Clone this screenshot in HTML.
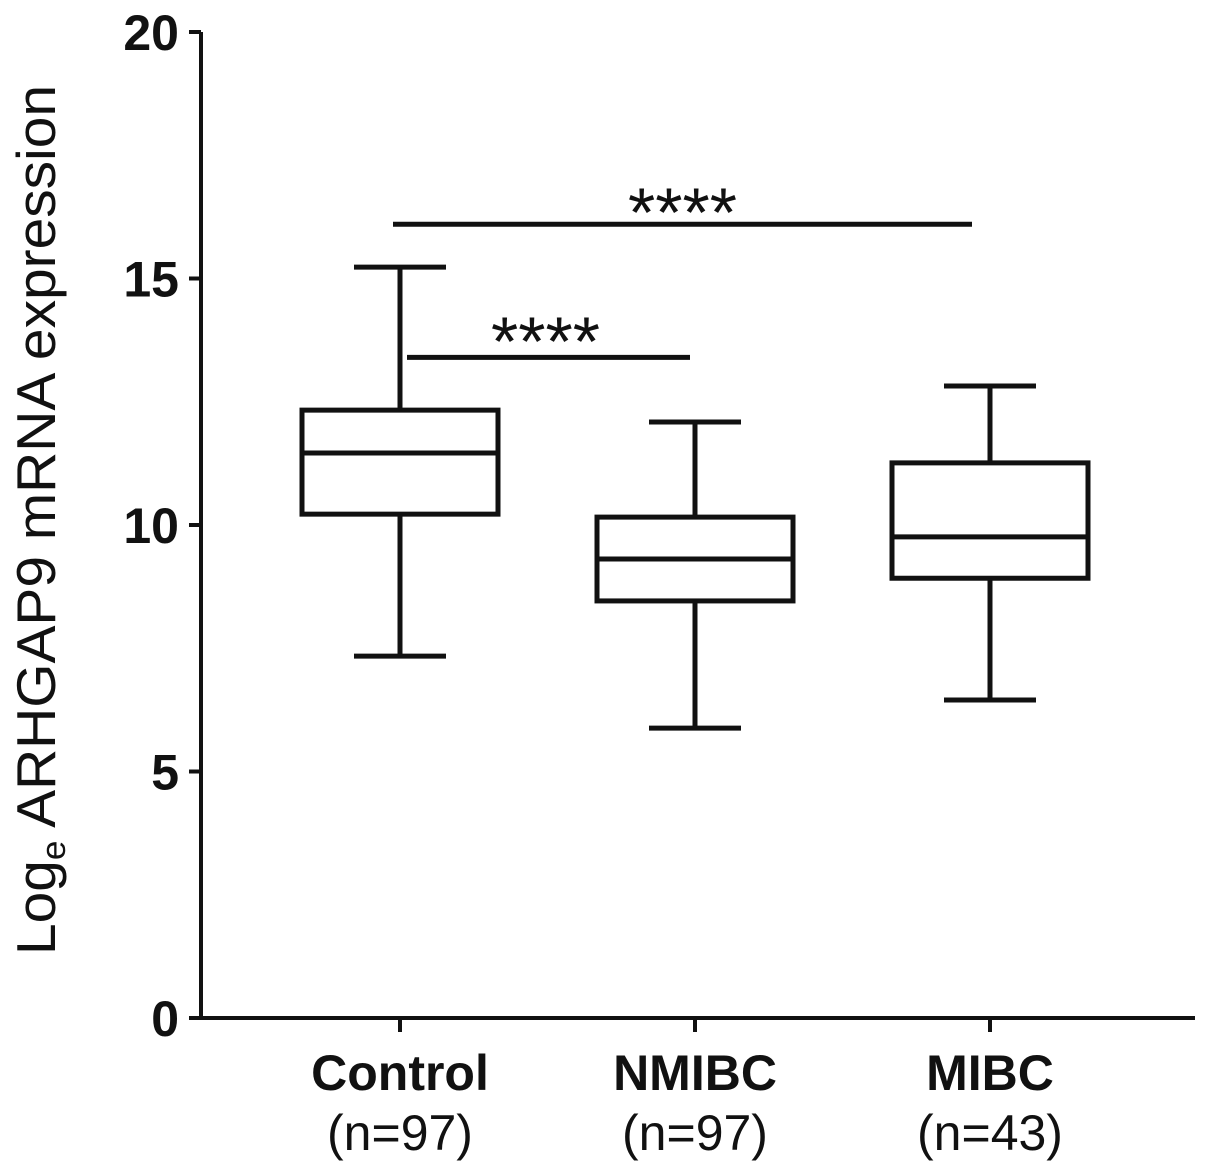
<!DOCTYPE html>
<html><head><meta charset="utf-8"><style>
body{margin:0;background:#fff}
svg{display:block}
text{font-family:"Liberation Sans",Arial,sans-serif;fill:#111}
</style></head><body>
<svg id="chart" width="1205" height="1176" viewBox="0 0 1205 1176" xmlns="http://www.w3.org/2000/svg">
<g id="axes" stroke="#111" stroke-width="4" fill="none"></g>
<g id="marks" stroke="#111" stroke-width="5" fill="none"></g>
<g id="labels"></g>
<text transform="translate(55,520) rotate(-90)" text-anchor="middle" font-size="55" textLength="870" lengthAdjust="spacingAndGlyphs">Log<tspan font-size="34" dy="10">e</tspan><tspan dy="-10"> ARHGAP9 mRNA expression</tspan></text>
</svg>
<script>
const categories=["Control","NMIBC","MIBC"];
const nLabels=["(n=97)","(n=97)","(n=43)"];
const mins=[7.34,5.88,6.45];
const q1s=[10.22,8.46,8.92];
const medians=[11.46,9.31,9.76];
const q3s=[12.33,10.16,11.26];
const maxs=[15.23,12.09,12.82];
const yTicks=[0,5,10,15,20];
const sigFrom=[0,0];
const sigTo=[1,2];
const sigY=[13.4,16.1];
const sigText=["****","****"];
const y=v=>1018-v*49.3;
const x=i=>400+i*295;
const NS="http://www.w3.org/2000/svg";
function mk(tag,attrs,parent){const e=document.createElementNS(NS,tag);for(const k in attrs)e.setAttribute(k,attrs[k]);document.getElementById(parent).appendChild(e);return e;}
const ax=mk('path',{d:`M201 ${y(20)} V${y(0)} H1195`},'axes');


yTicks.forEach(t=>{
 const l=mk('line',{x1:189,x2:201,y1:y(t),y2:y(t)},'axes');
 
 
 const tx=mk('text',{x:179,y:y(t)+18,'text-anchor':'end','font-size':50,'font-weight':'bold'},'labels');
 tx.textContent=t;
 
 
});
categories.forEach((c,i)=>{
 const cx=x(i);
 const tk=mk('line',{x1:cx,x2:cx,y1:y(0),y2:y(0)+14},'axes');
 
 
 const g=mk('g',{},'marks');
 
 
 const a=(t,at)=>{const e=document.createElementNS(NS,t);for(const k in at)e.setAttribute(k,at[k]);g.appendChild(e);};
 a('rect',{x:cx-98,y:y(q3s[i]),width:196,height:y(q1s[i])-y(q3s[i])});
 a('line',{x1:cx-98,x2:cx+98,y1:y(medians[i]),y2:y(medians[i])});
 a('line',{x1:cx,x2:cx,y1:y(q3s[i]),y2:y(maxs[i])});
 a('line',{x1:cx,x2:cx,y1:y(q1s[i]),y2:y(mins[i])});
 a('line',{x1:cx-46,x2:cx+46,y1:y(maxs[i]),y2:y(maxs[i])});
 a('line',{x1:cx-46,x2:cx+46,y1:y(mins[i]),y2:y(mins[i])});
 const t1=mk('text',{x:cx,y:1090,'text-anchor':'middle','font-size':50,'font-weight':'bold'},'labels');
 t1.textContent=c;
 
 
 const t2=mk('text',{x:cx,y:1150,'text-anchor':'middle','font-size':50},'labels');
 t2.textContent=nLabels[i];
 
 
});
sigFrom.forEach((f,k)=>{
 const x1=x(f)+(k===0?7:-7), x2=x(sigTo[k])+(k===0?-5:-18);
 const l=mk('line',{x1:x1,x2:x2,y1:y(sigY[k]),y2:y(sigY[k])},'marks');
 
 
 const t=mk('text',{x:(x1+x2)/2+(k===0?-3:0),y:y(sigY[k])+(k===0?8:12),'text-anchor':'middle','font-size':70},'labels');
 t.textContent=sigText[k];
 
 
});
</script>
</body></html>
